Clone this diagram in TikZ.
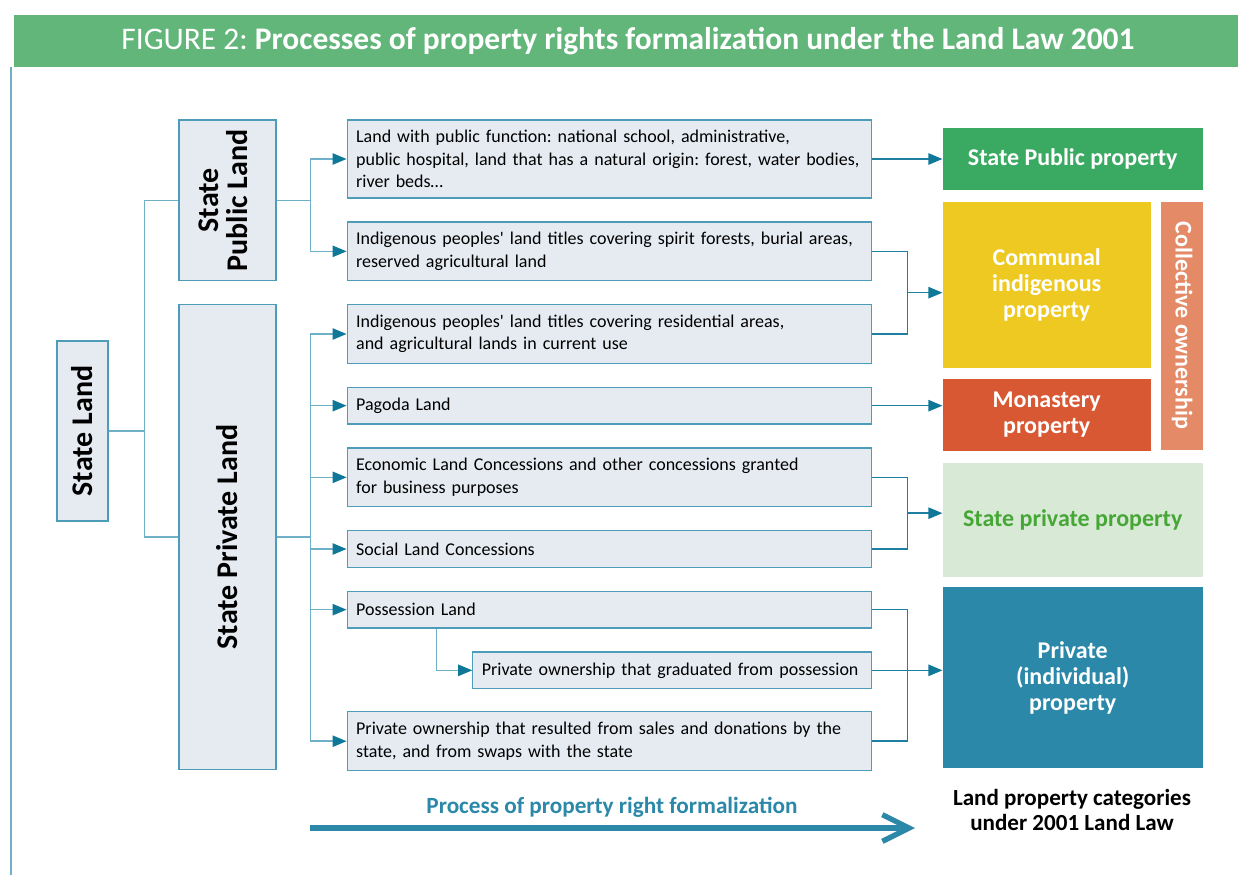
\documentclass[tikz,border=0pt]{standalone}
\usepackage{fontspec}
\setmainfont{Carlito}
\frenchspacing
\usetikzlibrary{positioning, arrows.meta, calc}

\definecolor{titlegreen}{HTML}{63B679}
\definecolor{frameblue}{HTML}{6DB0C7}
\definecolor{boxfill}{HTML}{E6EBF2}
\definecolor{boxline}{HTML}{4E9DB8}
\definecolor{linklight}{HTML}{6DB0C7}
\definecolor{linkdark}{HTML}{1F7FA0}
\definecolor{tipdark}{HTML}{0F7898}
\definecolor{pubgreen}{HTML}{3AAA63}
\definecolor{communalyellow}{HTML}{EDC922}
\definecolor{monasteryred}{HTML}{D95834}
\definecolor{collectivesalmon}{HTML}{E48A66}
\definecolor{privstatefill}{HTML}{D8EAD6}
\definecolor{privstatetext}{HTML}{46A636}
\definecolor{privteal}{HTML}{2B88A8}

\tikzstyle{titlebar} = [rectangle, fill=titlegreen, text=white,
minimum width=921pt, minimum height=39pt, inner sep=0pt,
font=\fontsize{23.6}{27}\selectfont]
\tikzstyle{landbox} = [rectangle, draw=boxline, fill=boxfill,
line width=0.9pt, inner sep=0pt,
font=\fontsize{22.5}{19.5}\selectfont\bfseries]
\tikzstyle{item} = [rectangle, draw=boxline, fill=boxfill,
line width=0.9pt,
text width=380pt, align=left, inner xsep=6.75pt, inner ysep=6pt,
font=\fontsize{13.5}{16.9}\selectfont]
\tikzstyle{category} = [rectangle, inner sep=0pt, text=white,
align=center,
font=\fontsize{18}{19.5}\selectfont\bfseries]
\tikzstyle{link} = [draw=linklight, line width=1.1pt]
\tikzstyle{rlink} = [draw=linkdark, line width=1.1pt]
\tikzstyle{arrow} = [link, -{Triangle[length=10.5pt, width=8.5pt, color=tipdark]}]
\tikzstyle{rarrow} = [rlink, -{Triangle[length=10.5pt, width=8.5pt, color=tipdark]}]
\tikzstyle{bigarrow} = [draw=privteal, line width=4pt, -{Straight Barb[length=20pt, width=20pt]}]

\begin{document}
\begin{tikzpicture}[x=0.75pt, y=-0.75pt, node distance=17.1pt]
\useasboundingbox (0,0) rectangle (1238,875);

% title and frame
\node (title) [titlebar] at (628,41) {FIGURE 2: \textbf{Processes of property rights formalization under the Land Law 2001}};
\draw [draw=frameblue, line width=1.5pt] (11,67) -- (11,875);

% land types
\node (b1) [item, minimum height=58.5pt] at (609.5,159) {Land with public function: national school, administrative,\\public hospital, land that has a natural origin: forest, water bodies,\\river beds\dots};
\node (b2) [item, minimum height=44pt, below=of b1] {Indigenous peoples\textquotesingle{} land titles covering spirit forests, burial areas,\\reserved agricultural land};
\node (b3) [item, minimum height=44pt, below=of b2] {Indigenous peoples\textquotesingle{} land titles covering residential areas,\\and agricultural lands in current use};
\node (b4) [item, minimum height=27.5pt, below=of b3] {Pagoda Land};
\node (b5) [item, minimum height=44pt, below=of b4] {Economic Land Concessions and other concessions granted\\for business purposes};
\node (b6) [item, minimum height=27.5pt, below=of b5] {Social Land Concessions};
\node (b7) [item, minimum height=27.5pt, below=of b6] {Possession Land};
\node (b8) [item, text width=285.75pt, minimum height=27.5pt, below=of b7.south east, anchor=north east] {Private ownership that graduated from possession};
\node (b9) [item, minimum height=44pt, below=62pt of b7] {Private ownership that resulted from sales and donations by the\\state, and from swaps with the state};

% state land
\node (stpub) [landbox, minimum width=72.75pt, minimum height=120.5pt, left=52.5pt of b1.north west, anchor=north east] {\rotatebox{90}{\begin{tabular}{@{}c@{}}State\\Public Land\end{tabular}}};
\node (stpriv) [landbox, minimum width=72.75pt, minimum height=348.5pt, below=of stpub] {\rotatebox{90}{State Private Land}};
\node (stland) [landbox, minimum width=38.25pt, minimum height=135pt] at (82.5,431) {\rotatebox{90}{State Land}};

% categories
\node (pubprop) [category, fill=pubgreen, minimum width=195pt, minimum height=46.5pt, right=52.5pt of b1] {State Public property};
\node (communal) [category, fill=communalyellow, minimum width=156pt, minimum height=124.5pt, below=8.25pt of pubprop.south west, anchor=north west] {Communal\\indigenous\\property};
\node (monastery) [category, fill=monasteryred, minimum width=156pt, minimum height=54pt, below=8.25pt of communal] {Monastery\\property};
\node (collective) [category, fill=collectivesalmon, minimum width=31.5pt, minimum height=186pt, right=7.5pt of communal.north east, anchor=north west] {\rotatebox{-90}{Collective ownership}};
\node (privstate) [category, fill=privstatefill, text=privstatetext, minimum width=195pt, minimum height=85.5pt, below=8.25pt of monastery.south west, anchor=north west] {State private property};
\node (privind) [category, fill=privteal, minimum width=195pt, minimum height=135.75pt, below=7.5pt of privstate] {Private\\(individual)\\property};

% tree on the left
\node (split0) [coordinate, right=27pt of stland.east] {};
\draw [link] (stland.east) -- (split0);
\draw [link] (stpub.west) -| (split0);
\draw [link] (stpriv.west) -| (split0);

\node (split1) [coordinate, right=25.5pt of stpub.east] {};
\draw [link] (stpub.east) -- (split1);
\draw [arrow] (split1) |- (b1.west);
\draw [arrow] (split1) |- (b2.west);

\node (split2) [coordinate, right=25.5pt of stpriv.east] {};
\draw [link] (stpriv.east) -- (split2);
\draw [arrow] (split2) |- (b3.west);
\draw [arrow] (split2) |- (b4.west);
\draw [arrow] (split2) |- (b5.west);
\draw [arrow] (split2) |- (b6.west);
\draw [arrow] (split2) |- (b7.west);
\draw [arrow] (split2) |- (b9.west);
\draw [arrow] ([xshift=67.5pt]b7.south west) |- (b8.west);

% merging on the right
\draw [rarrow] (b1.east) -- (b1.east -| pubprop.west);
\node (merge1) [coordinate] at ($(b2.east)!0.5!(b3.east) + (26.25pt,0)$) {};
\draw [rlink] (b2.east) -| (merge1);
\draw [rlink] (b3.east) -| (merge1);
\draw [rarrow] (merge1) -- (merge1 -| communal.west);
\draw [rarrow] (b4.east) -- (b4.east -| monastery.west);
\node (merge2) [coordinate] at ($(b5.east)!0.5!(b6.east) + (26.25pt,0)$) {};
\draw [rlink] (b5.east) -| (merge2);
\draw [rlink] (b6.east) -| (merge2);
\draw [rarrow] (merge2) -- (merge2 -| privstate.west);
\node (merge3) [coordinate, right=26.25pt of b8.east] {};
\draw [rlink] (b7.east) -| (merge3);
\draw [rlink] (b9.east) -| (merge3);
\draw [rarrow] (b8.east) -- (b8.east -| privind.west);

% bottom labels
\node (flowlabel) [text=privteal, font=\fontsize{17.4}{20}\selectfont\bfseries] at (612,807) {Process of property right formalization};
\coordinate (flowstart) at (310,828);
\coordinate (flowend) at (915,828);
\draw [bigarrow] (flowstart) -- (flowend);
\node (catlabel) [align=center, font=\fontsize{17.3}{18.75}\selectfont\bfseries] at (1072,810) {Land property categories\\under 2001 Land Law};

\end{tikzpicture}
\end{document}
